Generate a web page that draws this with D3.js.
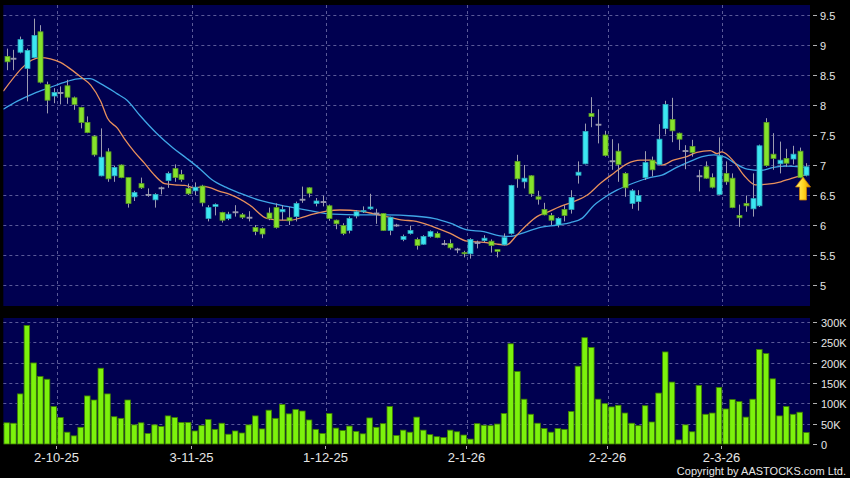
<!DOCTYPE html>
<html>
<head>
<meta charset="utf-8">
<script src="https://cdn.jsdelivr.net/npm/d3@7"></script>
<style>
  body { margin: 0; background: #000; }
  svg { display: block; font-family: "Liberation Sans", Arial, sans-serif; }
</style>
</head>
<body>
<svg id="chart"></svg>
<script>
// daily candles, oldest first
var opens = [8.81,8.78,8.88,8.61,8.79,9.22,8.34,8.15,8.21,8.32,8.12,7.96,7.71,7.48,6.82,7.22,6.82,7.00,6.79,6.47,
  6.69,6.51,6.42,6.62,6.74,6.94,6.84,6.61,6.57,6.65,6.11,6.31,6.21,6.11,6.22,6.17,6.13,5.96,5.94,6.20,
  6.29,6.22,6.12,6.14,6.43,6.62,6.36,6.39,6.32,6.08,5.99,5.91,6.15,6.22,6.27,6.20,6.19,5.91,6.00,5.76,
  5.86,5.76,5.68,5.81,5.86,5.69,5.69,5.60,5.54,5.52,5.71,5.74,5.73,5.59,5.67,5.86,7.06,6.72,6.82,6.47,
  6.26,6.16,6.00,6.26,6.26,6.83,7.02,7.86,7.68,7.50,7.07,7.23,6.86,6.36,6.39,6.79,7.08,7.01,7.61,7.76,
  7.53,7.24,7.31,6.82,6.97,6.79,6.51,6.86,6.78,6.16,6.36,6.27,6.32,7.71,7.18,7.02,7.11,7.10,7.23,6.83];
var highs = [8.94,8.92,9.14,8.94,9.44,9.33,8.39,8.28,8.31,8.42,8.14,7.97,7.81,7.50,7.61,7.28,6.99,7.01,6.79,6.57,
  6.79,6.61,6.53,6.64,6.89,7.01,6.92,6.69,6.71,6.67,6.33,6.36,6.22,6.22,6.33,6.20,6.23,6.00,5.96,6.29,
  6.36,6.33,6.30,6.39,6.64,6.63,6.45,6.49,6.34,6.09,6.03,6.14,6.25,6.31,6.52,6.27,6.20,6.14,6.02,5.84,
  5.99,5.79,5.83,5.91,5.89,5.75,5.76,5.62,5.57,5.78,5.74,5.83,5.76,5.59,5.86,6.67,7.17,7.00,6.83,6.57,
  6.37,6.20,6.13,6.33,6.58,7.06,7.69,8.13,7.93,7.57,7.43,7.36,6.88,6.60,6.58,7.23,7.14,7.68,8.07,8.12,
  7.54,7.33,7.42,6.92,7.06,6.86,7.46,7.06,6.86,6.34,6.49,6.86,7.34,7.78,7.53,7.39,7.27,7.32,7.29,7.03];
var lows = [8.58,8.58,8.86,8.06,8.78,8.36,7.86,8.03,8.01,8.02,7.92,7.61,7.53,7.14,6.81,6.72,6.72,6.78,6.29,6.40,
  6.60,6.47,6.29,6.51,6.62,6.72,6.72,6.50,6.50,6.31,6.06,6.16,6.04,6.08,6.14,6.10,6.06,5.83,5.78,6.08,
  5.94,6.08,6.00,6.06,6.37,6.46,6.31,6.31,6.07,5.93,5.83,5.86,6.11,6.20,6.25,6.02,5.90,5.83,5.97,5.73,
  5.84,5.59,5.67,5.79,5.78,5.66,5.59,5.53,5.46,5.44,5.61,5.71,5.54,5.46,5.66,5.84,6.62,6.61,6.47,6.34,
  6.16,6.00,5.96,6.06,6.19,6.69,7.01,7.63,7.36,7.14,6.92,6.72,6.47,6.27,6.24,6.75,6.81,7.00,7.51,7.38,
  7.25,6.93,7.14,6.56,6.77,6.61,6.50,6.67,6.28,5.97,6.22,6.14,6.30,6.97,6.92,6.86,6.97,7.01,6.78,6.81];
var closes = [8.72,8.78,9.09,8.91,9.16,8.38,8.08,8.21,8.21,8.13,8.01,7.71,7.54,7.17,7.13,6.77,6.96,6.79,6.36,6.54,
  6.62,6.51,6.51,6.62,6.86,6.79,6.76,6.52,6.63,6.37,6.29,6.34,6.08,6.18,6.22,6.13,6.13,5.89,5.85,6.11,
  5.96,6.26,6.07,6.36,6.43,6.53,6.40,6.39,6.11,6.02,5.86,6.11,6.22,6.24,6.30,6.20,5.91,6.13,6.00,5.81,
  5.91,5.66,5.81,5.89,5.79,5.69,5.62,5.60,5.52,5.76,5.71,5.78,5.66,5.56,5.79,6.66,6.77,6.78,6.52,6.43,
  6.17,6.08,6.11,6.16,6.46,6.88,7.56,7.81,7.68,7.16,7.07,7.01,6.62,6.57,6.49,7.04,6.92,7.43,8.01,7.57,
  7.43,7.24,7.21,6.82,6.78,6.63,7.15,6.72,6.29,6.12,6.32,6.44,7.32,6.99,7.11,7.08,7.03,7.18,6.79,6.97];
// volume in thousands of shares
var volumes = [52,51,123,291,199,166,159,92,65,29,20,41,118,108,186,123,67,63,108,47,
  52,26,47,43,69,65,53,53,32,45,60,36,51,24,32,27,47,69,37,83,
  63,97,74,85,81,59,36,26,75,39,33,44,31,25,64,41,50,92,21,34,
  29,66,34,23,18,16,34,30,22,12,50,46,45,49,75,246,178,110,73,51,
  38,29,38,36,80,191,261,237,110,99,91,95,76,51,45,94,54,125,226,152,
  10,47,30,144,73,76,139,86,109,104,66,110,232,222,160,69,92,73,78,28];

// moving averages as [candle index, price]
var maShort = [[-0.5,8.23],[5,8.79],[8,8.71],[9,8.64],[11,8.47],[12.5,8.33],[14,8.06],[15,7.78],[16.5,7.61],
  [17.5,7.44],[19,7.22],[20.5,7.03],[22,6.83],[23.5,6.69],[25,6.67],[26.5,6.66],[28,6.62],[29.5,6.64],
  [31.7,6.56],[33.2,6.51],[36.2,6.33],[38.7,6.11],[40.7,6.08],[42.2,6.08],[44.1,6.13],[45.6,6.18],
  [47.6,6.23],[49.6,6.25],[52.6,6.23],[54.5,6.19],[56.5,6.14],[59,6.08],[60.5,6.07],[63.5,5.97],
  [66,5.86],[68.5,5.73],[71,5.71],[73,5.68],[74.4,5.67],[75.9,5.83],[77.4,6.0],[78.9,6.14],[80.4,6.21],
  [82.4,6.31],[84.4,6.39],[86.4,6.5],[88.4,6.7],[90.3,6.86],[92.3,7.02],[94.3,7.08],[95.7,7.08],
  [97.5,7.0],[99.2,7.08],[101.2,7.14],[102.7,7.21],[104.7,7.24],[105.7,7.19],[106.4,7.22],[108.2,7.06],
  [109.7,6.83],[111.4,6.67],[113.2,6.68],[115.2,6.72],[116.6,6.77],[118.1,6.82],[119,6.83]];
var maLong = [[-0.5,7.93],[1.5,8.06],[4,8.19],[6.4,8.29],[8.9,8.39],[10.9,8.44],[12.4,8.44],[13.9,8.36],
  [16.4,8.19],[17.9,8.08],[19.8,7.83],[22.3,7.53],[24.8,7.28],[26.8,7.11],[28.8,6.93],[30.5,6.76],
  [32.6,6.63],[34.7,6.53],[37.7,6.41],[41.7,6.31],[45.1,6.24],[48.6,6.18],[52.6,6.17],[56.6,6.17],
  [60.5,6.15],[63.5,6.11],[66,6.03],[68.5,5.92],[71,5.89],[73.4,5.82],[74.9,5.81],[76.9,5.87],
  [79.4,5.96],[81.9,6.0],[83.9,6.04],[85.6,6.11],[87.4,6.33],[89.1,6.47],[90.8,6.58],[93.3,6.7],
  [95.7,6.79],[97.5,6.83],[99.7,6.96],[101.7,7.06],[103.5,7.14],[105.2,7.17],[106.9,7.13],[108.2,7.04],
  [110.2,6.93],[112.2,6.91],[114.1,6.96],[116.1,6.98],[118.1,6.97],[119,6.96]];

var priceTicks = [5, 5.5, 6, 6.5, 7, 7.5, 8, 8.5, 9, 9.5];
var priceTickLabels = ['5', '5.5', '6', '6.5', '7', '7.5', '8', '8.5', '9', '9.5'];
var volTicks = [0, 50, 100, 150, 200, 250, 300];
var volTickLabels = ['0', '50K', '100K', '150K', '200K', '250K', '300K'];
// first trading day of each month, as candle index
var dateTickIdx = [8, 28, 48, 69, 90, 107];
var dateTickLabels = ['2-10-25', '3-11-25', '1-12-25', '2-1-26', '2-2-26', '2-3-26'];

// layout
var svg_width = 850,
  svg_height = 478,
  plot_left = 3.34,
  plot_right = 810,
  main_top = 5,
  main_bottom = 306,
  vol_top = 318,
  vol_bottom = 444;

var panel_fill = '#000050',
  grid_color = '#5a5a98',
  up_fill = '#3ce6f2',
  up_stroke = '#2aa6bc',
  down_fill = '#86e22c',
  down_stroke = '#5a9c24',
  wick_color = '#9c9cb0',
  text_color = '#e6e6e6';

var svg = d3.select('#chart')
  .attr('width', svg_width)
  .attr('height', svg_height);

var n = closes.length;
var x = d3.scaleBand()
  .domain(d3.range(n))
  .range([plot_left, plot_left + 6.72 * n])
  .padding(0);
var bw = x.bandwidth();
function xc(i) { return x(i) + bw / 2; }
// for the moving average lines that use fractional positions
var xLin = d3.scaleLinear().domain([0, n - 1]).range([xc(0), xc(n - 1)]);

var y = d3.scaleLinear().domain([5, 9.5]).range([285, 15]);
var yVol = d3.scaleLinear().domain([0, 300]).range([vol_bottom, 321.8]);

// panels
svg.append('rect').attr('x', plot_left).attr('y', main_top)
  .attr('width', plot_right - plot_left).attr('height', main_bottom - main_top)
  .attr('fill', panel_fill);
svg.append('rect').attr('x', plot_left).attr('y', vol_top)
  .attr('width', plot_right - plot_left).attr('height', vol_bottom - vol_top)
  .attr('fill', panel_fill);

svg.append('clipPath').attr('id', 'main-clip')
  .append('rect').attr('x', plot_left).attr('y', main_top)
  .attr('width', plot_right - plot_left).attr('height', main_bottom - main_top);

// horizontal grid
var grid = svg.append('g')
  .attr('stroke', grid_color)
  .attr('stroke-width', 1)
  .attr('stroke-dasharray', '3,3');

grid.selectAll('.hgrid')
  .data(priceTicks)
  .enter()
  .append('line')
  .attr('x1', plot_left).attr('x2', plot_right)
  .attr('y1', function(d) { return Math.round(y(d)) + 0.5; })
  .attr('y2', function(d) { return Math.round(y(d)) + 0.5; });

grid.selectAll('.vgrid-vol')
  .data(volTicks.slice(1))
  .enter()
  .append('line')
  .attr('x1', plot_left).attr('x2', plot_right)
  .attr('y1', function(d) { return Math.round(yVol(d)) + 0.5; })
  .attr('y2', function(d) { return Math.round(yVol(d)) + 0.5; });

// vertical grid at month starts, both panels
dateTickIdx.forEach(function(idx) {
  var gx = Math.round(x(idx)) + 0.5;
  grid.append('line').attr('x1', gx).attr('x2', gx).attr('y1', main_top).attr('y2', main_bottom);
  grid.append('line').attr('x1', gx).attr('x2', gx).attr('y1', vol_top).attr('y2', vol_bottom);
});

// moving averages
var maLine = d3.line()
  .x(function(d) { return xLin(d[0]); })
  .y(function(d) { return y(d[1]); })
  .curve(d3.curveMonotoneX);

var maGroup = svg.append('g').attr('clip-path', 'url(#main-clip)');
maGroup.append('path').datum(maLong)
  .attr('d', maLine)
  .attr('fill', 'none')
  .attr('stroke', '#3fa6e6')
  .attr('stroke-width', 1.3);
maGroup.append('path').datum(maShort)
  .attr('d', maLine)
  .attr('fill', 'none')
  .attr('stroke', '#e8905c')
  .attr('stroke-width', 1.3);

// candles
var candles = d3.range(n).map(function(i) {
  return { i: i, o: opens[i], h: highs[i], l: lows[i], c: closes[i] };
});
var bodyW = bw * 0.74;

var cg = svg.append('g').attr('clip-path', 'url(#main-clip)');
var candle = cg.selectAll('.candle')
  .data(candles)
  .enter()
  .append('g')
  .attr('class', 'candle');

candle.append('line')
  .attr('x1', function(d) { return Math.round(xc(d.i)) + 0.5; })
  .attr('x2', function(d) { return Math.round(xc(d.i)) + 0.5; })
  .attr('y1', function(d) { return y(d.h); })
  .attr('y2', function(d) { return y(d.l); })
  .attr('stroke', wick_color)
  .attr('stroke-width', 1);

candle.append('rect')
  .attr('x', function(d) { return Math.round(xc(d.i)) + 0.5 - bodyW / 2; })
  .attr('y', function(d) { return y(Math.max(d.o, d.c)); })
  .attr('width', bodyW)
  .attr('height', function(d) { return Math.max(1, Math.abs(y(d.o) - y(d.c))); })
  .attr('fill', function(d) {
    if (d.c > d.o) return up_fill;
    if (d.c < d.o) return down_fill;
    return wick_color;
  })
  .attr('stroke', function(d) {
    if (d.c > d.o) return up_stroke;
    if (d.c < d.o) return down_stroke;
    return wick_color;
  })
  .attr('stroke-width', 0.8);

// volume bars
svg.append('g').selectAll('.vol')
  .data(volumes)
  .enter()
  .append('rect')
  .attr('class', 'vol')
  .attr('x', function(d, i) { return x(i) + 0.6; })
  .attr('y', function(d) { return yVol(d); })
  .attr('width', bw - 1.2)
  .attr('height', function(d) { return vol_bottom - yVol(d); })
  .attr('fill', '#7cf20c')
  .attr('stroke', '#3d7d00')
  .attr('stroke-width', 0.8);

// right axis, price
var axisG = svg.append('g').attr('font-size', 11).attr('fill', text_color);
priceTicks.forEach(function(v, k) {
  var ty = Math.round(y(v)) + 0.5;
  axisG.append('line').attr('x1', 813).attr('x2', 817).attr('y1', ty).attr('y2', ty)
    .attr('stroke', '#b0b0b0');
  axisG.append('text').attr('x', 820).attr('y', ty + 4).text(priceTickLabels[k]);
});
volTicks.forEach(function(v, k) {
  var ty = Math.round(yVol(v)) + 0.5;
  axisG.append('line').attr('x1', 813).attr('x2', 817).attr('y1', ty).attr('y2', ty)
    .attr('stroke', '#b0b0b0');
  axisG.append('text').attr('x', 821).attr('y', ty + 4).text(volTickLabels[k]);
});

// date axis
dateTickIdx.forEach(function(idx, k) {
  var tx = Math.round(x(idx)) - 0.5;
  svg.append('line').attr('x1', tx).attr('x2', tx).attr('y1', 446).attr('y2', 449)
    .attr('stroke', '#b0b0b0');
  svg.append('text')
    .attr('x', tx).attr('y', 462)
    .attr('text-anchor', 'middle')
    .attr('font-size', 13)
    .attr('fill', text_color)
    .text(dateTickLabels[k]);
});

svg.append('text')
  .attr('x', 846).attr('y', 475)
  .attr('text-anchor', 'end')
  .attr('font-size', 11)
  .attr('fill', text_color)
  .text('Copyright by AASTOCKS.com Ltd.');

// marker arrow under the latest candles
var defs = svg.append('defs');
var grad = defs.append('linearGradient').attr('id', 'arrow-grad')
  .attr('x1', 0).attr('x2', 1).attr('y1', 0).attr('y2', 0);
grad.append('stop').attr('offset', '0%').attr('stop-color', '#fff27a');
grad.append('stop').attr('offset', '55%').attr('stop-color', '#ffd21c');
grad.append('stop').attr('offset', '100%').attr('stop-color', '#e09000');

var ax = xLin(118.5), ay = y(6.8);
svg.append('path')
  .attr('d', 'M' + ax + ',' + ay +
    'L' + (ax + 7.5) + ',' + (ay + 10) +
    'L' + (ax + 3.5) + ',' + (ay + 10) +
    'L' + (ax + 3.5) + ',' + (ay + 23) +
    'L' + (ax - 3.5) + ',' + (ay + 23) +
    'L' + (ax - 3.5) + ',' + (ay + 10) +
    'L' + (ax - 7.5) + ',' + (ay + 10) + 'Z')
  .attr('fill', 'url(#arrow-grad)')
  .attr('stroke', '#c77a00')
  .attr('stroke-width', 0.8);
</script>
</body>
</html>
